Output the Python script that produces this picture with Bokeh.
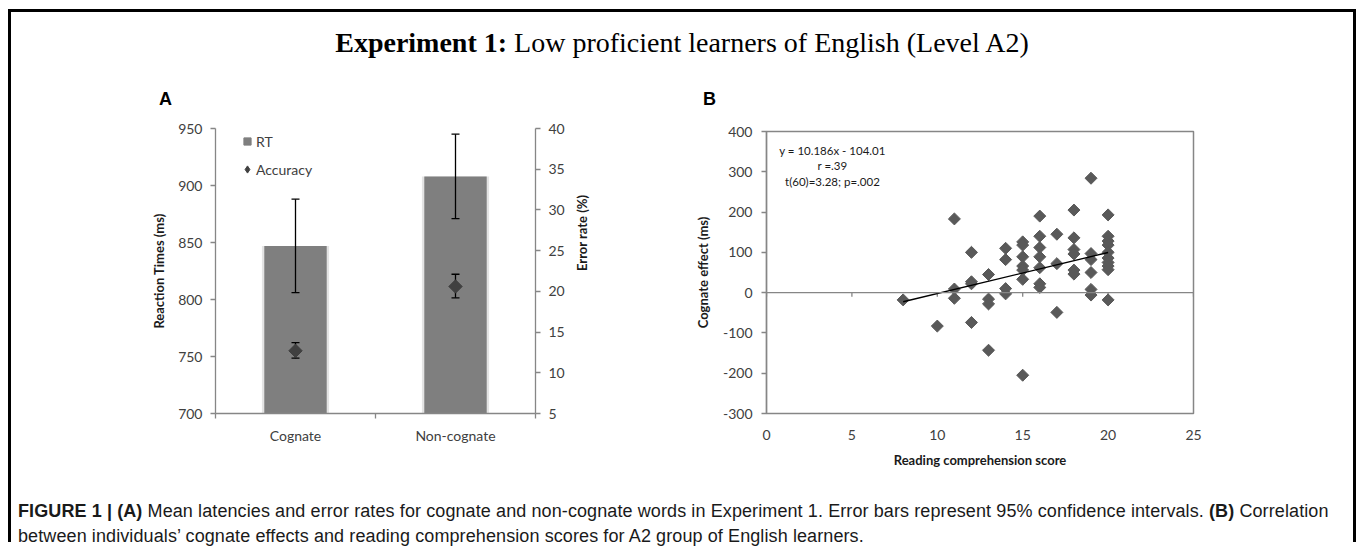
import numpy as np
from bokeh.plotting import figure
from bokeh.models import (Range1d, LinearAxis, FixedTicker, Whisker, TeeHead, ColumnDataSource,
                          Legend, LegendItem, Label, Span, Div)
from bokeh.layouts import column, row
from bokeh.embed import file_html
from bokeh.resources import INLINE

# ---------------- data ----------------
categories = ["Cognate", "Non-cognate"]
rt_mean = [847, 908]
rt_lower = [806, 871]
rt_upper = [888, 945]
err_mean = [12.7, 20.6]
err_lower = [11.8, 19.2]
err_upper = [13.7, 22.1]
rt_ticks = [700, 750, 800, 850, 900, 950]
err_ticks = [5, 10, 15, 20, 25, 30, 35, 40]

scores = [8, 10,
          11, 11, 11,
          12, 12, 12, 12,
          13, 13, 13, 13,
          14, 14, 14, 14,
          15, 15, 15, 15, 15, 15, 15,
          16, 16, 16, 16, 16, 16, 16,
          17, 17, 17,
          18, 18, 18, 18, 18, 18,
          19, 19, 19, 19, 19, 19,
          20, 20, 20, 20, 20, 20, 20, 20, 20, 20]
effects = [-18, -83,
           183, 9, -14,
           100, 27, 22, -74,
           45, -16, -28, -143,
           110, 82, 10, -3,
           126, 118, 89, 66, 56, 33, -205,
           190, 140, 112, 89, 62, 22, 13,
           145, 72, -49,
           205, 136, 107, 96, 56, 46,
           284, 97, 82, 50, 8, -6,
           193, 140, 128, 118, 100, 86, 75, 66, 57, -18]
fit_slope = 10.186
fit_intercept = -104.01
score_ticks = [0, 5, 10, 15, 20, 25]
effect_ticks = [-300, -200, -100, 0, 100, 200, 300, 400]
stats_lines = ["y = 10.186x - 104.01", "r =.39", "t(60)=3.28; p=.002"]

AXIS = "#868686"
TXT = "#404040"
TICKFONT = "Lato"

def style_axis(ax):
    ax.axis_line_color = AXIS
    ax.axis_line_width = 1.3
    ax.major_tick_line_color = AXIS
    ax.major_tick_line_width = 1.3
    ax.minor_tick_line_color = None
    ax.major_tick_in = 0
    ax.major_tick_out = 5
    ax.major_label_text_font = TICKFONT
    ax.major_label_text_font_size = "14px"
    ax.major_label_text_color = TXT
    ax.axis_label_text_font = TICKFONT
    ax.axis_label_text_font_style = "bold"
    ax.axis_label_text_font_size = "13px"
    ax.axis_label_text_color = "#1a1a1a"

# ---------------- panel A ----------------
pA = figure(width=649, height=365, output_backend="svg", toolbar_location=None, title=None,
            x_range=Range1d(0, len(categories)), y_range=Range1d(rt_ticks[0], rt_ticks[-1]),
            min_border_left=204, min_border_right=125, min_border_top=21, min_border_bottom=59,
            background_fill_color="white", border_fill_color="white", margin=0)
pA.outline_line_color = None
pA.grid.visible = False
pA.extra_y_ranges = {"err": Range1d(err_ticks[0], err_ticks[-1])}

cat_x = [i + 0.5 for i in range(len(categories))]
srcA = ColumnDataSource(dict(x=cat_x, rt=rt_mean, rt_lo=rt_lower, rt_hi=rt_upper,
                             err=err_mean, err_lo=err_lower, err_hi=err_upper))

pA.vbar(x="x", top="rt", bottom=rt_ticks[0], width=0.42, source=srcA,
        fill_color="#e4e4e4", line_color=None)
pA.vbar(x="x", top="rt", bottom=rt_ticks[0], width=0.39, source=srcA,
        fill_color="#7f7f7f", line_color=None)
pA.add_layout(Whisker(source=srcA, base="x", lower="rt_lo", upper="rt_hi", dimension="height",
                      line_color="black", line_width=1.3, level="overlay",
                      upper_head=TeeHead(size=8, line_color="black", line_width=1.3),
                      lower_head=TeeHead(size=8, line_color="black", line_width=1.3)))
pA.add_layout(Whisker(source=srcA, base="x", lower="err_lo", upper="err_hi", dimension="height",
                      y_range_name="err", line_color="black", line_width=1.3, level="glyph",
                      upper_head=TeeHead(size=8, line_color="black", line_width=1.3),
                      lower_head=TeeHead(size=8, line_color="black", line_width=1.3)))
pA.scatter(x="x", y="err", source=srcA, y_range_name="err", marker="square",
           angle=np.pi / 4, size=9.5, fill_color="#404040", line_color="#404040", level="overlay")

# legend swatch renderers
rt_sw = pA.scatter(x="x", y="rt", source=srcA, marker="square", size=7,
                   fill_color="#7f7f7f", line_color="#7f7f7f", visible=False)
acc_sw = pA.scatter(x="x", y="err", source=srcA, y_range_name="err", marker="diamond", size=9,
                    fill_color="#404040", line_color="#404040", visible=False)
leg = Legend(items=[LegendItem(label="RT", renderers=[rt_sw]),
                    LegendItem(label="Accuracy", renderers=[acc_sw])],
             location=(23, 235), orientation="vertical", padding=0, margin=0, spacing=10,
             glyph_width=18, glyph_height=18, label_height=18, label_standoff=0,
             label_text_font=TICKFONT, label_text_font_size="14px", label_text_color=TXT,
             border_line_color=None, background_fill_alpha=0)
pA.add_layout(leg)

ya = pA.yaxis[0]
ya.ticker = FixedTicker(ticks=rt_ticks)
ya.axis_label = "Reaction Times (ms)"
ya.major_label_standoff = 8
ya.axis_label_standoff = 8
style_axis(ya)

yr = LinearAxis(y_range_name="err", ticker=FixedTicker(ticks=err_ticks))
style_axis(yr)
yr.major_label_standoff = 8
pA.add_layout(yr, "right")

# right-side axis title (reads bottom-to-top like the reference)
err_mid = (err_ticks[0] + err_ticks[-1]) / 2
yr_title = LinearAxis(y_range_name="err", ticker=FixedTicker(ticks=[err_mid]))
yr_title.axis_line_color = None
yr_title.major_tick_line_color = None
yr_title.minor_tick_line_color = None
yr_title.major_tick_in = 0
yr_title.major_tick_out = 0
yr_title.major_label_standoff = 14
yr_title.major_label_overrides = {err_mid: "Error rate (%)"}
yr_title.major_label_orientation = np.pi / 2
yr_title.major_label_text_font = TICKFONT
yr_title.major_label_text_font_style = "bold"
yr_title.major_label_text_font_size = "13px"
yr_title.major_label_text_color = "#1a1a1a"
pA.add_layout(yr_title, "right")

xa = pA.xaxis[0]
xa.ticker = FixedTicker(ticks=cat_x, minor_ticks=list(range(len(categories) + 1)))
xa.major_label_overrides = {cx: c for cx, c in zip(cat_x, categories)}
style_axis(xa)
xa.major_tick_out = 0
xa.minor_tick_line_color = AXIS
xa.minor_tick_line_width = 1.3
xa.minor_tick_in = 0
xa.minor_tick_out = 5
xa.major_label_standoff = 8

# ---------------- panel B ----------------
pB = figure(width=693, height=365, output_backend="svg", toolbar_location=None, title=None,
            x_range=Range1d(score_ticks[0], score_ticks[-1]),
            y_range=Range1d(effect_ticks[0], effect_ticks[-1]),
            min_border_left=106, min_border_right=160, min_border_top=24, min_border_bottom=59,
            background_fill_color="white", border_fill_color="white", margin=0)
pB.grid.visible = False
pB.outline_line_color = AXIS
pB.outline_line_width = 1.5

pB.add_layout(Span(location=0, dimension="width", line_color=AXIS, line_width=1.3))
pB.segment(x0=score_ticks, x1=score_ticks, y0=[0] * len(score_ticks),
           y1=[-10] * len(score_ticks), line_color=AXIS, line_width=1.3)

fit_x = [min(scores), max(scores)]
fit_y = [fit_slope * v + fit_intercept for v in fit_x]
pB.scatter(x=scores, y=effects, marker="square", angle=np.pi / 4, size=8.5,
           fill_color="#595959", line_color="#595959")
pB.line(x=fit_x, y=fit_y, line_color="black", line_width=1.4)

for i, t in enumerate(stats_lines):
    pB.add_layout(Label(x=3.86, y=354 - 38.5 * i, text=t, text_align="center",
                        text_baseline="middle", text_font=TICKFONT, text_font_size="11.5px",
                        text_color="#1a1a1a"))

yb = pB.yaxis[0]
yb.ticker = FixedTicker(ticks=effect_ticks)
yb.major_label_overrides = {t: str(t) for t in effect_ticks}
yb.axis_label = "Cognate effect (ms)"
style_axis(yb)
yb.major_label_standoff = 9
yb.axis_label_standoff = 9

xb = pB.xaxis[0]
xb.ticker = FixedTicker(ticks=score_ticks)
xb.axis_label = "Reading comprehension score"
style_axis(xb)
xb.axis_line_color = None
xb.major_tick_line_color = None
xb.major_tick_out = 0
xb.major_label_standoff = 16
xb.axis_label_standoff = 9

# ---------------- texts ----------------
title_html = (
    '<div style="position:relative;width:1342px;height:95px;">'
    '<div style="position:absolute;left:0;top:15px;width:1342px;text-align:center;'
    "font-family:'Liberation Serif','Times New Roman',serif;font-size:28px;line-height:32px;color:#000;\">"
    '<b>Experiment 1:</b> Low proficient learners of English (Level A2)</div>'
    '<div style="position:absolute;left:148px;top:80px;font-family:\'Liberation Sans\',Arial,sans-serif;'
    'font-weight:bold;font-size:18px;line-height:15px;color:#000;">A</div>'
    '<div style="position:absolute;left:692px;top:80px;font-family:\'Liberation Sans\',Arial,sans-serif;'
    'font-weight:bold;font-size:18px;line-height:15px;color:#000;">B</div>'
    '</div>')
title_div = Div(text=title_html, width=1342, height=95, margin=0)

cap_style = ("white-space:nowrap;height:25px;line-height:25px;"
             "font-family:'Liberation Sans',Arial,sans-serif;font-size:18px;"
             "letter-spacing:0.1px;color:#1a1a1a;")
cap_html = (
    '<div style="padding-top:27px;padding-left:7px;width:1330px;">'
    f'<div style="{cap_style}"><b>FIGURE 1 | (A)</b><span> Mean latencies and error rates for cognate '
    'and non-cognate words in Experiment 1. Error bars represent 95% confidence intervals. </span>'
    '<b>(B)</b><span> Correlation</span></div>'
    f'<div style="{cap_style}">between individuals\u2019 cognate effects and reading comprehension '
    'scores for A2 group of English learners.</div>'
    '</div>')
cap_div = Div(text=cap_html, width=1342, height=70, margin=0)

panels = row(column(pA, margin=0), column(pB, margin=0), margin=0)
layout = column(title_div, panels, cap_div, margin=(9, 0, 0, 8),
                styles={"border": "3px solid #000", "border-bottom": "none"})

open("out.html", "w").write(file_html(layout, INLINE))
